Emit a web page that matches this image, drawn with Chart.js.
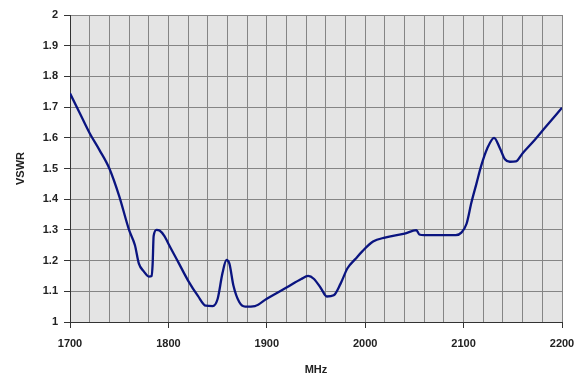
<!DOCTYPE html>
<html><head><meta charset="utf-8">
<script src="https://cdn.jsdelivr.net/npm/chart.js@4"></script>
<style>html,body{margin:0;padding:0;background:#fff}#wrap{width:587px;height:374px}</style>
</head><body><div id="wrap"><canvas id="c" width="587" height="374"></canvas></div>
<script>
const freqMHz = [1700,1710,1720,1730,1740,1750,1760,1766,1770,1775,1780,1783,1784,1785,1788,1791,1796,1800,1810,1820,1830,1838,1845,1850,1855,1859,1862,1866,1872,1878,1888,1900,1920,1935,1942,1948,1955,1961,1968,1975,1982,1990,1997,2008,2020,2040,2052,2055,2060,2092,2098,2103,2108,2113,2118,2124,2131,2137,2142,2147,2153,2160,2172,2182,2200];
const vswr = [1.745,1.68,1.615,1.56,1.50,1.41,1.30,1.25,1.19,1.165,1.148,1.15,1.19,1.28,1.30,1.298,1.28,1.255,1.195,1.135,1.085,1.053,1.052,1.075,1.16,1.202,1.19,1.12,1.065,1.05,1.052,1.076,1.112,1.14,1.15,1.14,1.11,1.083,1.087,1.125,1.175,1.205,1.23,1.262,1.275,1.288,1.299,1.285,1.283,1.283,1.292,1.32,1.39,1.45,1.51,1.565,1.60,1.565,1.53,1.522,1.523,1.55,1.592,1.63,1.698];
const xLabelValues = [1700,1800,1900,2000,2100,2200];
const yTickLabels = ['1','1.1','1.2','1.3','1.4','1.5','1.6','1.7','1.8','1.9','2'];
const xTitle = 'MHz';
const yTitle = 'VSWR';

const points = freqMHz.map((f,i)=>({x:f,y:vswr[i]}));
const plotBg = {
  id:'plotBg',
  beforeDraw(chart){
    const {ctx, chartArea:a} = chart;
    ctx.save(); ctx.fillStyle='#e4e4e4';
    ctx.fillRect(a.left,a.top,a.right-a.left,a.bottom-a.top); ctx.restore();
  }
};
const font = {family:'Liberation Sans, Arial, sans-serif', size:11, weight:'bold'};
new Chart(document.getElementById('c'),{
  type:'line',
  data:{datasets:[{data:points,borderColor:'#0a1480',borderWidth:2.3,pointRadius:0,fill:false,cubicInterpolationMode:'monotone'}]},
  options:{
    responsive:false,animation:false,
    layout:{padding:{left:0,right:25,top:15,bottom:0}},
    plugins:{legend:{display:false},tooltip:{enabled:false}},
    scales:{
      x:{type:'linear',min:1700,max:2200,
        ticks:{stepSize:20,autoSkip:false,maxRotation:0,color:'#222',font,padding:9,
          callback:(v)=>xLabelValues.includes(v)?String(v):''},
        grid:{color:'#858585',lineWidth:1,tickLength:6,
          tickColor:(c)=>xLabelValues.includes(c.tick&&c.tick.value)?'#333':'rgba(0,0,0,0)'},
        border:{color:'#333',width:1},
        title:{display:true,text:xTitle,color:'#222',font,padding:{top:9,bottom:-3}},
        afterFit:(s)=>{s.height=52;}
      },
      y:{min:1,max:2,
        ticks:{stepSize:0.1,color:'#222',font,padding:6,
          callback:(v)=>yTickLabels[Math.round((v-1)*10)]},
        grid:{color:'#858585',lineWidth:1,tickLength:6,tickColor:'#333'},
        border:{color:'#333',width:1},
        title:{display:true,text:yTitle,color:'#222',font,padding:{top:14,bottom:4}},
        afterFit:(s)=>{s.width=70;}
      }
    }
  },
  plugins:[plotBg]
});
</script></body></html>
